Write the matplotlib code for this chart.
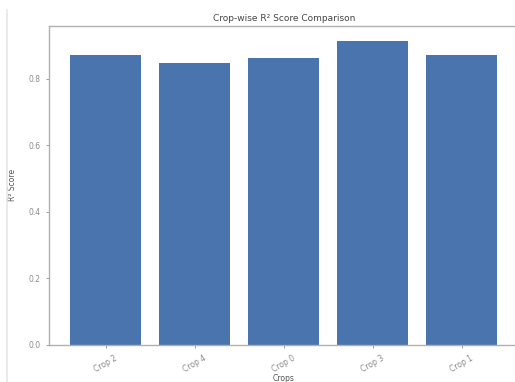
import matplotlib
matplotlib.use("Agg")
import matplotlib.pyplot as plt

# R² per crop, in the order the bars are drawn
crops = ["Crop 2", "Crop 4", "Crop 0", "Crop 3", "Crop 1"]
r2_scores = [0.870, 0.848, 0.863, 0.914, 0.872]
y_ticks = [0.0, 0.2, 0.4, 0.6, 0.8]

bar_color = "#4a74ae"
grey = "#8a8a8a"

fig = plt.figure(figsize=(5.15, 3.82), dpi=100)
fig.patch.set_facecolor("white")

# thin page rule on the left
fig.add_artist(plt.Line2D([0.014, 0.014], [0.0, 0.975], color="#e6e6e6", lw=1.2))

# axes run slightly past the right edge
ax = fig.add_axes([0.095, 0.097, 0.912, 0.836])
ax.bar(crops, r2_scores, width=0.8, color=bar_color)

ax.set_yticks(y_ticks)
ax.set_yticklabels([f"{v:.1f}" for v in y_ticks])
ax.set_title("Crop-wise R² Score Comparison", fontsize=6.5, color="#444444", pad=3)
ax.set_ylabel("R² Score", fontsize=5.5, color="#555555", labelpad=8)
ax.set_xlabel("Crops", fontsize=5.5, color="#555555", labelpad=0)

ax.spines["right"].set_visible(False)
for s in ax.spines.values():
    s.set_color("#b0b0b0")
    s.set_linewidth(1.0)
ax.tick_params(axis="both", labelsize=5.5, colors=grey, length=2.5, width=0.6)
plt.setp(ax.get_xticklabels(), rotation=30)

fig.savefig("out.png", dpi=100)
